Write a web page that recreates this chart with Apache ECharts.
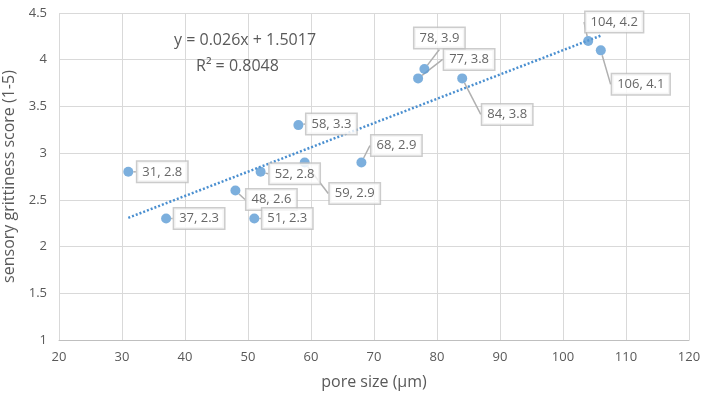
<!DOCTYPE html>
<html><head><meta charset="utf-8">
<script src="https://cdn.jsdelivr.net/npm/echarts@6/dist/echarts.min.js"></script>
<style>html,body{margin:0;padding:0;background:#fff}#c{width:706px;height:394px}</style>
</head><body><div id="c"></div>
<script>
// data
const poreSize = [31, 37, 48, 51, 52, 58, 59, 68, 77, 78, 84, 104, 106];
const gritScore = [2.8, 2.3, 2.6, 2.3, 2.8, 3.3, 2.9, 2.9, 3.8, 3.9, 3.8, 4.2, 4.1];
const trendX = [31, 106];
const trendY = [2.3077, 4.2577];
const equationText = 'y = 0.026x + 1.5017';
const r2Text = 'R² = 0.8048';
const xTitle = 'pore size (μm)';
const yTitle = 'sensory grittiness score (1-5)';

// label displacement (layout only)
const labelDx = [34, 33, 36, 33, 34, 33, 50, 35, 51, 15, 45, 26, 40];
const labelDy = [0, 0, 9, 0, 2, -1, 31, -17, -19, -31, 36, -19, 34];

const FONT = '"Open Sans", sans-serif';
const chart = echarts.init(document.getElementById('c'));
chart.setOption({
  animation: false,
  grid: {left: 59, right: 17, top: 13, bottom: 54, outerBoundsMode: 'none', containLabel: false},
  xAxis: {
    type: 'value', min: 20, max: 120, interval: 10,
    name: xTitle, nameLocation: 'middle', nameGap: 34,
    nameTextStyle: {fontSize: 16, color: '#595959', fontFamily: FONT},
    axisLabel: {fontSize: 13, color: '#595959', fontFamily: FONT, margin: 11},
    axisLine: {show: true, lineStyle: {color: '#bfbfbf'}},
    axisTick: {show: false},
    splitLine: {lineStyle: {color: '#d9d9d9', width: 1}}
  },
  yAxis: {
    type: 'value', min: 1, max: 4.5, interval: 0.5,
    name: yTitle, nameLocation: 'middle', nameGap: 36, nameRotate: 90,
    nameTextStyle: {fontSize: 16, color: '#595959', fontFamily: FONT},
    axisLabel: {fontSize: 13, color: '#595959', fontFamily: FONT, margin: 12},
    axisLine: {show: false},
    axisTick: {show: false},
    splitLine: {lineStyle: {color: '#d9d9d9', width: 1}}
  },
  graphic: [
    {type: 'text', left: 174, top: 32, z: 10, style: {text: equationText, fontSize: 16, fill: '#595959', fontFamily: FONT}},
    {type: 'text', left: 196, top: 58, z: 10, style: {text: r2Text, fontSize: 16, fill: '#595959', fontFamily: FONT}}
  ],
  series: [
    {
      type: 'line',
      data: trendX.map((x, i) => [x, trendY[i]]),
      showSymbol: false, symbol: 'none',
      lineStyle: {color: '#4a8fd0', width: 2.5, type: [2, 2]},
      z: 1, silent: true
    },
    {
      type: 'scatter',
      data: poreSize.map((x, i) => [x, gritScore[i]]),
      symbolSize: 10,
      itemStyle: {color: '#5b9bd5'},
      z: 3,
      label: {
        show: true, position: 'inside',
        formatter: p => p.value[0] + ', ' + p.value[1],
        fontSize: 13, color: '#404040', fontFamily: FONT,
        backgroundColor: '#fff', borderColor: '#bfbfbf', borderWidth: 1.5,
        padding: [4, 5, 3, 5]
      },
      labelLine: {show: true, lineStyle: {color: '#b0b0b0', width: 1.5}},
      labelLayout: p => ({dx: labelDx[p.dataIndex], dy: labelDy[p.dataIndex]})
    }
  ]
});
</script></body></html>
